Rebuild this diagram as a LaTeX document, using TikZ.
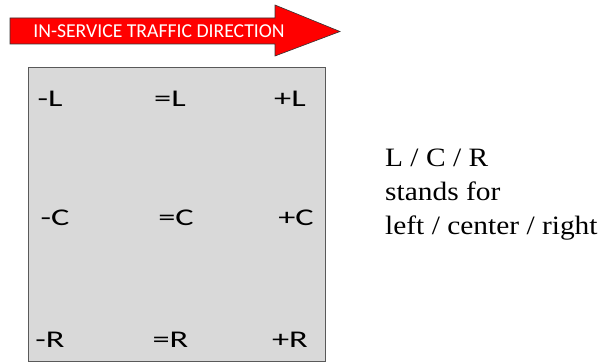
\documentclass[tikz,border=0pt]{standalone}
\usepackage{fontspec}
\setmainfont{Carlito}
\newfontfamily\cellfont[FakeStretch=1.43]{Carlito}
\newfontfamily\serifnote[FakeStretch=1.11]{Liberation Serif}
\definecolor{boxfill}{HTML}{D9D9D9}
\definecolor{boxline}{HTML}{595959}
\definecolor{arrred}{HTML}{FF0000}
\tikzset{
  cell/.style={anchor=base, inner sep=0pt, font=\cellfont\fontsize{24}{28}\selectfont},
  note/.style={anchor=base west, inner sep=0pt, font=\serifnote\fontsize{26.5}{30}\selectfont},
}
\begin{document}
\begin{tikzpicture}[x=1pt,y=-1pt]
\useasboundingbox (0,0) rectangle (598,363);
% direction arrow
\draw[fill=arrred, draw=black!80, line width=0.6pt, line join=miter]
  (10,18) -- (275,18) -- (275,5) -- (340,31.5) -- (275,56) -- (275,44) -- (10,44) -- cycle;
\node[anchor=base, inner sep=0pt, text=white, font=\fontsize{19.7}{23}\selectfont] (dir) at (159,37.5) {IN-SERVICE TRAFFIC DIRECTION};
% grid box
\node[draw=boxline, fill=boxfill, line width=0.8pt, minimum width=297pt, minimum height=294pt, inner sep=0pt, anchor=north west] (grid) at (28,67) {};
\node[cell] (mL) at (50,107) {-L};
\node[cell] (eL) at (170,107) {=L};
\node[cell] (pL) at (290,107) {+L};
\node[cell] (mC) at (55,226) {-C};
\node[cell] (eC) at (176,226) {=C};
\node[cell] (pC) at (296,226) {+C};
\node[cell] (mR) at (50,348) {-R};
\node[cell] (eR) at (170.5,348) {=R};
\node[cell] (pR) at (290,348) {+R};
% note
\node[note] (n1) at (385,167) {L / C / R};
\node[note] (n2) at (385,201) {stands for};
\node[note] (n3) at (385,235) {left / center / right};
\end{tikzpicture}
\end{document}
